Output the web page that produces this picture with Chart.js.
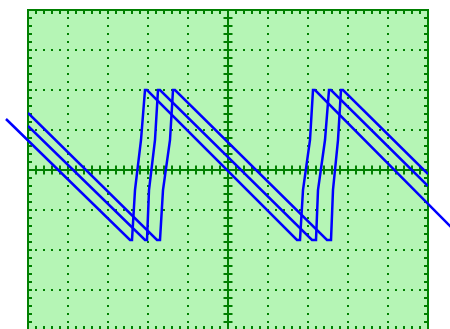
<!DOCTYPE html>
<html>
<head>
<meta charset="utf-8">
<title>Scope trace</title>
<script src="https://cdn.jsdelivr.net/npm/chart.js@4/dist/chart.umd.min.js"></script>
<style>
  html, body { margin: 0; padding: 0; overflow: hidden; background: #ffffff; }
  canvas { display: block; }
</style>
</head>
<body>
<canvas id="scope" width="450" height="340"></canvas>
<script>
// ===== TRACE DATA (time in divisions, voltage in divisions) =====
const timeA = [-0.55, 2.55, 2.6, 2.675, 2.825, 2.925, 2.975, 6.725, 6.8, 6.875, 7.05, 7.125, 7.175, 10.6];
const voltA = [1.275, -1.75, -1.75, -0.5, 0.75, 2, 2, -1.75, -1.75, -0.5, 0.75, 2, 2, -1.45];

const timeB = [0, 2.925, 2.975, 3.025, 3.175, 3.25, 3.3, 7.1, 7.2, 7.25, 7.425, 7.525, 7.575, 10];
const voltB = [1.1, -1.75, -1.75, -0.5, 0.75, 2, 2, -1.75, -1.75, -0.5, 0.75, 2, 2, -0.4];

const timeC = [0, 3.225, 3.3, 3.375, 3.55, 3.625, 3.675, 7.475, 7.575, 7.625, 7.75, 7.825, 7.875, 10];
const voltC = [1.425, -1.75, -1.75, -0.5, 0.75, 2, 2, -1.75, -1.75, -0.5, 0.75, 2, 2, -0.1];

// screen: 10 x 8 divisions, 5 minor marks per division
const xDivs = [0, 10];
const yDivs = [-4, 4];
const minorPerDiv = 5;

const screenColor = "#b5f5b5";
const gridColor = "#008000";
const traceColor = "#0000ff";

function toPoints(ts, vs) {
  return ts.map((t, i) => ({ x: t, y: vs[i] }));
}

// ===== GRATICULE (screen fill, frame, centre cross and minor marks) =====
const graticule = {
  id: "graticule",
  beforeDraw(chart) {
    const { ctx, chartArea: a } = chart;
    ctx.save();
    ctx.fillStyle = screenColor;
    ctx.fillRect(a.left, a.top, a.right - a.left, a.bottom - a.top);
    ctx.restore();
  },
  beforeDatasetsDraw(chart) {
    const { ctx, chartArea: a, scales } = chart;
    const xs = scales.x;
    const ys = scales.y;
    const cx = xs.getPixelForValue((xDivs[0] + xDivs[1]) / 2);
    const cy = ys.getPixelForValue(0);

    ctx.save();
    ctx.strokeStyle = gridColor;
    ctx.fillStyle = gridColor;
    ctx.lineWidth = 2;

    // centre cross
    ctx.beginPath();
    ctx.moveTo(a.left, cy);
    ctx.lineTo(a.right, cy);
    ctx.moveTo(cx, a.top);
    ctx.lineTo(cx, a.bottom);
    ctx.stroke();

    // minor marks along the x direction
    const nx = (xDivs[1] - xDivs[0]) * minorPerDiv;
    for (let i = 0; i <= nx; i++) {
      const px = Math.round(xs.getPixelForValue(xDivs[0] + i / minorPerDiv));
      ctx.fillRect(px - 1, cy - 4.5, 2, 9);
      ctx.fillRect(px - 1, a.top, 2, 4);
      ctx.fillRect(px - 1, a.bottom - 4, 2, 4);
    }

    // minor marks along the y direction
    const ny = (yDivs[1] - yDivs[0]) * minorPerDiv;
    for (let i = 0; i <= ny; i++) {
      const py = Math.round(ys.getPixelForValue(yDivs[0] + i / minorPerDiv));
      ctx.fillRect(cx - 4.5, py - 1, 9, 2);
      ctx.fillRect(a.left, py - 1, 4, 2);
      ctx.fillRect(a.right - 4, py - 1, 4, 2);
    }

    // frame
    ctx.strokeRect(a.left, a.top, a.right - a.left, a.bottom - a.top);
    ctx.restore();
  }
};

// dotted lines on whole divisions, leaving out the frame and the centre cross
function dottedColor(ctx, lo, hi, mid) {
  const v = ctx.tick.value;
  if (v === lo || v === hi || v === mid) return "rgba(0,0,0,0)";
  return gridColor;
}

const traceStyle = {
  borderColor: traceColor,
  borderWidth: 2.5,
  pointRadius: 0,
  tension: 0,
  fill: false
};

new Chart(document.getElementById("scope").getContext("2d"), {
  type: "line",
  data: {
    datasets: [
      { ...traceStyle, data: toPoints(timeA, voltA), clip: false },
      { ...traceStyle, data: toPoints(timeB, voltB) },
      { ...traceStyle, data: toPoints(timeC, voltC) }
    ]
  },
  options: {
    responsive: false,
    animation: false,
    events: [],
    layout: { padding: { left: 28, right: 22, top: 10, bottom: 10 } },
    plugins: { legend: { display: false }, tooltip: { enabled: false } },
    scales: {
      x: {
        type: "linear",
        min: xDivs[0],
        max: xDivs[1],
        ticks: { display: false, stepSize: 1 },
        grid: {
          drawTicks: false,
          lineWidth: 2,
          color: (ctx) => dottedColor(ctx, xDivs[0], xDivs[1], (xDivs[0] + xDivs[1]) / 2)
        },
        border: { display: false, dash: [2, 6], dashOffset: 1 }
      },
      y: {
        type: "linear",
        min: yDivs[0],
        max: yDivs[1],
        ticks: { display: false, stepSize: 1 },
        grid: {
          drawTicks: false,
          lineWidth: 2,
          color: (ctx) => dottedColor(ctx, yDivs[0], yDivs[1], 0)
        },
        border: { display: false, dash: [2, 6], dashOffset: 1 }
      }
    }
  },
  plugins: [graticule]
});
</script>
</body>
</html>
